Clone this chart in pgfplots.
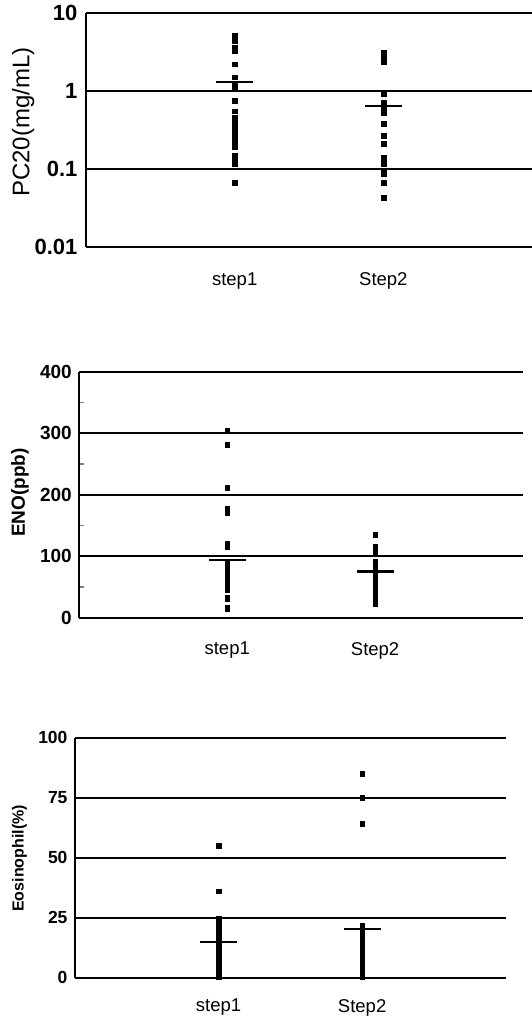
\documentclass[border=0pt]{standalone}
\usepackage{fontspec}
\setmainfont{Liberation Sans}
\usepackage{pgfplots}
\pgfplotsset{compat=1.18}
\pgfplotsset{panel/.style={
  scale only axis, xmin=0, xmax=3, xtick={1,2}, xticklabels={step1,Step2},
  axis lines=left, axis line style={-, line width=2pt},
  ymajorgrids, major grid style={black, line width=2pt},
  tick align=inside, major tick length=0pt, minor tick length=5pt,
  minor tick style={line width=1.3pt},
  xtick style={draw=none},
  x tick label style={font=\fontsize{18.5}{18.5}\selectfont},
  clip=false,
  /pgf/number format/assume math mode=true,
  every axis y label/.style={rotate=90, anchor=center},
  anchor=south west,
},
dots/.style={only marks, mark=square*, mark size=2.4pt, black},
meanline/.style={only marks, mark=-, mark size=18.5pt, black, mark options={line width=2.5pt}},
}
\begin{document}
\begin{tikzpicture}
\useasboundingbox (0,0) rectangle (532pt,1017pt);
% Panel 1
\begin{axis}[panel, at={(86pt,770pt)}, width=446pt, height=234pt,
  ymode=log, ymin=0.01, ymax=10, ytick={0.01,0.1,1,10}, yticklabels={0.01,0.1,1,10},
  yminorticks=false,
  x tick label style={yshift=-22pt},
  y tick label style={font=\bfseries\fontsize{22}{22}\selectfont, xshift=-5pt},
  ylabel={\fontsize{24}{24}\selectfont PC20(mg/mL)},
  every axis y label/.append style={at={(axis description cs:-0.141,0.534)}}]
\addplot[dots] coordinates {(1,5.1)(1,4.7)(1,4.4)(1,3.6)(1,3.3)(1,2.2)(1,1.5)(1,1.22)(1,1.12)(1,1.08)(1,0.75)(1,0.55)(1,0.46)(1,0.41)(1,0.37)(1,0.34)(1,0.30)(1,0.25)(1,0.23)(1,0.20)(1,0.19)(1,0.15)(1,0.13)(1,0.115)(1,0.067)};
\addplot[dots] coordinates {(2,3.1)(2,2.6)(2,2.4)(2,0.92)(2,0.71)(2,0.64)(2,0.58)(2,0.53)(2,0.38)(2,0.27)(2,0.21)(2,0.14)(2,0.127)(2,0.115)(2,0.094)(2,0.087)(2,0.067)(2,0.043)};
\addplot[meanline] coordinates {(1,1.3)(2,0.64)};
\end{axis}
% Panel 2
\begin{axis}[panel, at={(79.3pt,399.3pt)}, width=443.7pt, height=245.9pt,
  ymin=0, ymax=400, ytick={0,100,200,300,400}, yticklabels={0,100,200,300,400},
  minor ytick={50,150,250,350},
  x tick label style={yshift=-21pt},
  y tick label style={font=\bfseries\fontsize{19}{19}\selectfont, xshift=-4pt},
  ylabel={\bfseries\fontsize{19}{19}\selectfont ENO(ppb)},
  every axis y label/.append style={at={(axis description cs:-0.134,0.509)}}]
\addplot[dots] coordinates {(1,304)(1,281)(1,212)(1,178)(1,170)(1,121)(1,115)(1,91)(1,88)(1,85)(1,82)(1,79)(1,76)(1,73)(1,70)(1,66)(1,62)(1,58)(1,52)(1,48)(1,45)(1,33)(1,30)(1,17)(1,14)};
\addplot[dots] coordinates {(2,135)(2,115)(2,112)(2,108)(2,105)(2,92)(2,85)(2,82)(2,80)(2,78)(2,75)(2,72)(2,70)(2,66)(2,62)(2,58)(2,52)(2,48)(2,45)(2,40)(2,36)(2,32)(2,25)(2,22)};
\addplot[meanline] coordinates {(1,94)(2,75)};
\end{axis}
% Panel 3
\begin{axis}[panel, at={(75pt,39.3pt)}, width=430.7pt, height=240pt,
  ymin=0, ymax=100, ytick={0,25,50,75,100}, yticklabels={0,25,50,75,100},
  x tick label style={yshift=-18pt},
  y tick label style={font=\bfseries\fontsize{17.5}{17.5}\selectfont, xshift=-4pt},
  ylabel={\bfseries\fontsize{16}{16}\selectfont Eosinophil(\%)},
  every axis y label/.append style={at={(axis description cs:-0.129,0.497)}}]
\addplot[dots] coordinates {(1,55)(1,36)(1,24.5)(1,23.5)(1,22.5)(1,21.5)(1,20.5)(1,19.5)(1,18.5)(1,17.5)(1,16.5)(1,15.5)(1,14)(1,12.5)(1,11.5)(1,10.5)(1,9.5)(1,8)(1,6.5)(1,5.5)(1,4.5)(1,3.5)(1,2.5)(1,1.5)(1,0.5)};
\addplot[dots] coordinates {(2,85)(2,75)(2,64)(2,21.5)(2,20.5)(2,19)(2,17.5)(2,16)(2,14.5)(2,13)(2,11.5)(2,10)(2,8.5)(2,7)(2,5.5)(2,4)(2,2.5)(2,1.5)(2,0.5)};
\addplot[meanline] coordinates {(1,14.9)(2,20.2)};
\end{axis}
\end{tikzpicture}
\end{document}
